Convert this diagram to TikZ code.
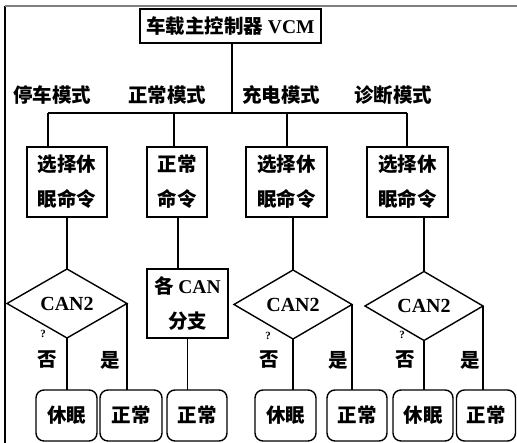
\documentclass[tikz,border=0pt]{standalone}
\usepackage{fontspec}
\setmainfont{Liberation Serif}
\newfontfamily\cjk{Noto Sans CJK SC}
\usetikzlibrary{shapes.geometric}
\definecolor{framegray}{RGB}{128,128,128}
\begin{document}
\begin{tikzpicture}[x=1pt,y=-1pt,
  every node/.style={inner sep=0pt, outer sep=0pt},
  ln/.style={line width=1.4pt},
  box/.style={draw, ln, align=center, font={\cjk\bfseries\fontsize{19.5}{35}\selectfont}},
  lbl/.style={font={\cjk\bfseries\fontsize{19.5}{23}\selectfont}},
  dia/.style={draw, ln, diamond, aspect=1.7, minimum width=118, minimum height=69, font={\bfseries\fontsize{20}{24}\selectfont}},
  rbox/.style={draw, ln, rounded corners=8pt, minimum height=51, font={\cjk\bfseries\fontsize{19.5}{23}\selectfont}},
  qm/.style={font={\bfseries\fontsize{11}{12}\selectfont}}
]
\useasboundingbox (0,0) rectangle (517,443);
\coordinate (fTL) at (5,6);
\coordinate (fTR) at (517,6);
\coordinate (fBL) at (5,443);
\draw[ln] (fTL) -- (fBL);
\draw[framegray, line width=2.2pt] (fTL) -- (fTR);

% top controller
\node[box, minimum width=181, minimum height=34] (vcm) at (230.5,26) {车载主控制器 {\rmfamily VCM}};

% mode labels
\node[lbl] (m1) at (52,95) {停车模式};
\node[lbl] (m2) at (167,95) {正常模式};
\node[lbl] (m3) at (281,95) {充电模式};
\node[lbl] (m4) at (393,95) {诊断模式};

% first row boxes
\node[box, minimum width=80, minimum height=70] (b1) at (67,182) {选择休\\眠命令};
\node[box, minimum width=60, minimum height=70] (b2) at (177,182) {正常\\命令};
\node[box, minimum width=81, minimum height=70] (b3) at (286.5,182) {选择休\\眠命令};
\node[box, minimum width=81, minimum height=70] (b4) at (407.5,182) {选择休\\眠命令};

% bus
\coordinate (j1) at (48,113);
\coordinate (j2) at (174,113);
\coordinate (j3) at (287,113);
\coordinate (j4) at (407,113);
\draw[ln] (vcm.south -| 232,26) -- (232,113);
\draw[ln] (j1) -- (j4);
\draw[ln] (j1) -- (j1 |- b1.north);
\draw[ln] (j2) -- (j2 |- b2.north);
\draw[ln] (j3) -- (j3 |- b3.north);
\draw[ln] (j4) -- (j4 |- b4.north);

% second row
\node[dia, minimum width=120] (d1) at (67,303.5) {CAN2};
\node[box, minimum width=81, minimum height=69] (bx) at (187.5,303.5) {各 {\rmfamily CAN}\\分支};
\node[dia] (d3) at (293,304.5) {CAN2};
\node[dia] (d4) at (424,306) {CAN2};

\draw[ln] (b1.south) -- (d1.north);
\draw[ln] (bx.north -| 178,0) -- (b2.south -| 178,0);
\draw[ln] (d3.north |- b3.south) -- (d3.north);
\draw[ln] (d4.north |- b4.south) -- (d4.north);

% bottom row
\node[rbox, minimum width=61] (r1) at (66.5,415.5) {休眠};
\node[rbox, minimum width=62] (r2) at (131,415.5) {正常};
\node[rbox, minimum width=60] (r3) at (197,415.5) {正常};
\node[rbox, minimum width=61] (r4) at (285.5,415.5) {休眠};
\node[rbox, minimum width=60] (r5) at (357,415.5) {正常};
\node[rbox, minimum width=60] (r6) at (423,415.5) {休眠};
\node[rbox, minimum width=59] (r7) at (486,415.5) {正常};

\draw[ln] (d1.south) -- (d1.south |- r1.north);
\draw[ln] (d1.east) -- (d1.east |- r2.north);
\draw[ln] (bx.south) -- (bx.south |- r3.north);
\draw[ln] (d3.south) -- (d3.south |- r4.north);
\draw[ln] (d3.east) -- (d3.east |- r5.north);
\draw[ln] (d4.south) -- (d4.south |- r6.north);
\draw[ln] (d4.east) -- (d4.east |- r7.north);

% branch labels
\node[qm] (q1) at (43,334) {?};
\node[qm] (q3) at (268,336) {?};
\node[qm] (q4) at (402,335) {?};
\node[lbl] (n1) at (47,360) {否};
\node[lbl] (y1) at (110,360) {是};
\node[lbl] (n3) at (269,360) {否};
\node[lbl] (y3) at (338,360) {是};
\node[lbl] (n4) at (405,360) {否};
\node[lbl] (y4) at (470,360) {是};
\end{tikzpicture}
\end{document}
